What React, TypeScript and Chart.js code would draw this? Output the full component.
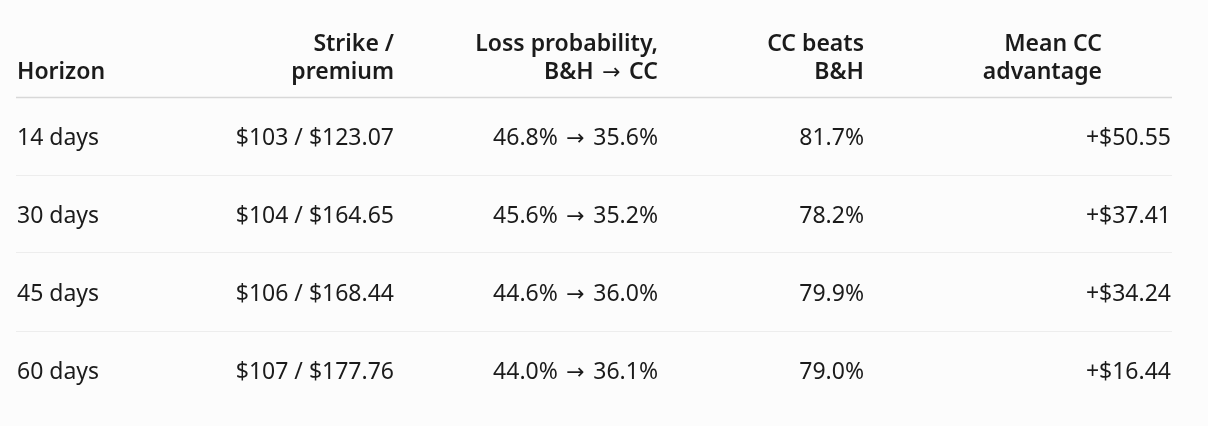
import React, { useEffect, useRef } from "react";
import { Chart, registerables } from "chart.js";

Chart.register(...registerables);

// ---- data ----
const columnHeaders: string[][] = [
  ["Horizon"],
  ["Strike /", "premium"],
  ["Loss probability,", "B&H → CC"],
  ["CC beats", "B&H"],
  ["Mean CC", "advantage"],
];
const horizons = ["14 days", "30 days", "45 days", "60 days"];
const strikes = [103, 104, 106, 107];
const premiums = [123.07, 164.65, 168.44, 177.76];
const lossBH = [46.8, 45.6, 44.6, 44.0];
const lossCC = [35.6, 35.2, 36.0, 36.1];
const ccBeats = [81.7, 78.2, 79.9, 79.0];
const meanAdvantage = [50.55, 37.41, 34.24, 16.44];

// ---- layout (not data) ----
const W = 1208;
const H = 426;
const COL_ANCHOR = [17, 394, 658, 864, 1171];
const HEAD_ANCHOR = [17, 394, 658, 864, 1102];
const COL_ALIGN: CanvasTextAlign[] = ["left", "right", "right", "right", "right"];
const LINE_LEFT = 16;
const LINE_RIGHT = 1172;
const FONT_FAMILY = '"Noto Sans", "Open Sans", sans-serif';
const BODY_FONT = `400 23px ${FONT_FAMILY}`;
const HEAD_FONT = `600 23px ${FONT_FAMILY}`;
const ARROW_BODY_FONT = `400 22px "DejaVu Sans", sans-serif`;
const ARROW_HEAD_FONT = `400 22px "DejaVu Sans", sans-serif`;
const ARROW_GAP = 2.5;
const TEXT_COLOR = "#1b1b1b";
const BG = "#fcfcfc";

const cellText = (col: number, i: number): string => {
  switch (col) {
    case 0:
      return horizons[i];
    case 1:
      return `$${strikes[i]} / $${premiums[i].toFixed(2)}`;
    case 2:
      return `${lossBH[i].toFixed(1)}% → ${lossCC[i].toFixed(1)}%`;
    case 3:
      return `${ccBeats[i].toFixed(1)}%`;
    default:
      return `+$${meanAdvantage[i].toFixed(2)}`;
  }
};

// draw text where the arrow glyph uses a larger font
function drawRich(
  ctx: CanvasRenderingContext2D,
  text: string,
  x: number,
  y: number,
  align: CanvasTextAlign,
  font: string,
  arrowFont: string
) {
  const parts: { t: string; f: string; arrow: boolean }[] = [];
  const segs = text.split("→");
  segs.forEach((s, k) => {
    if (s) parts.push({ t: s, f: font, arrow: false });
    if (k < segs.length - 1) parts.push({ t: "→", f: arrowFont, arrow: true });
  });
  let total = 0;
  const widths = parts.map((p) => {
    ctx.font = p.f;
    const w = ctx.measureText(p.t).width + (p.arrow ? ARROW_GAP * 2 : 0);
    total += w;
    return w;
  });
  let cx = align === "right" ? x - total : x;
  ctx.textAlign = "left";
  parts.forEach((p, k) => {
    ctx.font = p.f;
    ctx.fillText(p.t, cx + (p.arrow ? ARROW_GAP : 0), y);
    cx += widths[k];
  });
}

const tablePlugin = {
  id: "tableText",
  beforeDraw(chart: any) {
    const { ctx } = chart;
    ctx.save();
    ctx.fillStyle = BG;
    ctx.fillRect(0, 0, chart.width, chart.height);
    ctx.restore();
  },
  afterDatasetsDraw(chart: any) {
    const { ctx, scales } = chart;
    const xs = scales.x;
    const ys = scales.y;
    ctx.save();
    // lines
    const x0 = xs.getPixelForValue(LINE_LEFT);
    const x1 = xs.getPixelForValue(LINE_RIGHT);
    const headerY = Math.round(ys.getPixelForValue(-0.5)) + 0.5;
    ctx.lineWidth = 1.3;
    ctx.strokeStyle = "#d8d8d8";
    ctx.beginPath();
    ctx.moveTo(x0, headerY);
    ctx.lineTo(x1, headerY);
    ctx.stroke();
    ctx.lineWidth = 1;
    ctx.strokeStyle = "#ededed";
    for (let i = 0; i < horizons.length - 1; i++) {
      const y = Math.round(ys.getPixelForValue(i + 0.5)) + 0.5;
      ctx.beginPath();
      ctx.moveTo(x0, y);
      ctx.lineTo(x1, y);
      ctx.stroke();
    }
    // headers
    ctx.fillStyle = TEXT_COLOR;
    ctx.textBaseline = "alphabetic";
    columnHeaders.forEach((lines, c) => {
      const x = xs.getPixelForValue(HEAD_ANCHOR[c]);
      const n = lines.length;
      lines.forEach((t, k) => {
        const y = headerY - 18.5 - (n - 1 - k) * 28;
        drawRich(ctx, t, x, y, COL_ALIGN[c], HEAD_FONT, ARROW_HEAD_FONT);
      });
    });
    // body cells from dataset elements
    chart.data.datasets.forEach((_ds: any, c: number) => {
      const meta = chart.getDatasetMeta(c);
      meta.data.forEach((el: any, i: number) => {
        drawRich(ctx, cellText(c, i), el.x, el.y + 9, COL_ALIGN[c], BODY_FONT, ARROW_BODY_FONT);
      });
    });
    ctx.restore();
  },
};

export default function App() {
  const ref = useRef<HTMLCanvasElement | null>(null);
  useEffect(() => {
    document.body.style.margin = "0";
    document.body.style.background = BG;
    if (!ref.current) return;
    const datasets = columnHeaders.map((h, c) => ({
      label: h.join(" "),
      data: horizons.map((_, i) => ({ x: COL_ANCHOR[c], y: i })),
      pointRadius: 0,
      pointHoverRadius: 0,
      showLine: false,
    }));
    const chart = new Chart(ref.current, {
      type: "scatter",
      data: { datasets },
      options: {
        animation: false,
        responsive: false,
        events: [],
        layout: { padding: 0 },
        plugins: { legend: { display: false }, tooltip: { enabled: false } },
        scales: {
          x: { type: "linear", min: 0, max: W, display: false },
          y: {
            type: "linear",
            reverse: true,
            min: -135.5 / 78,
            max: (H - 135.5) / 78,
            display: false,
          },
        },
      },
      plugins: [tablePlugin],
    });
    return () => chart.destroy();
  }, []);
  return (
    <div style={{ width: W, height: H, background: BG }}>
      <canvas ref={ref} width={W} height={H} style={{ display: "block" }} />
    </div>
  );
}
